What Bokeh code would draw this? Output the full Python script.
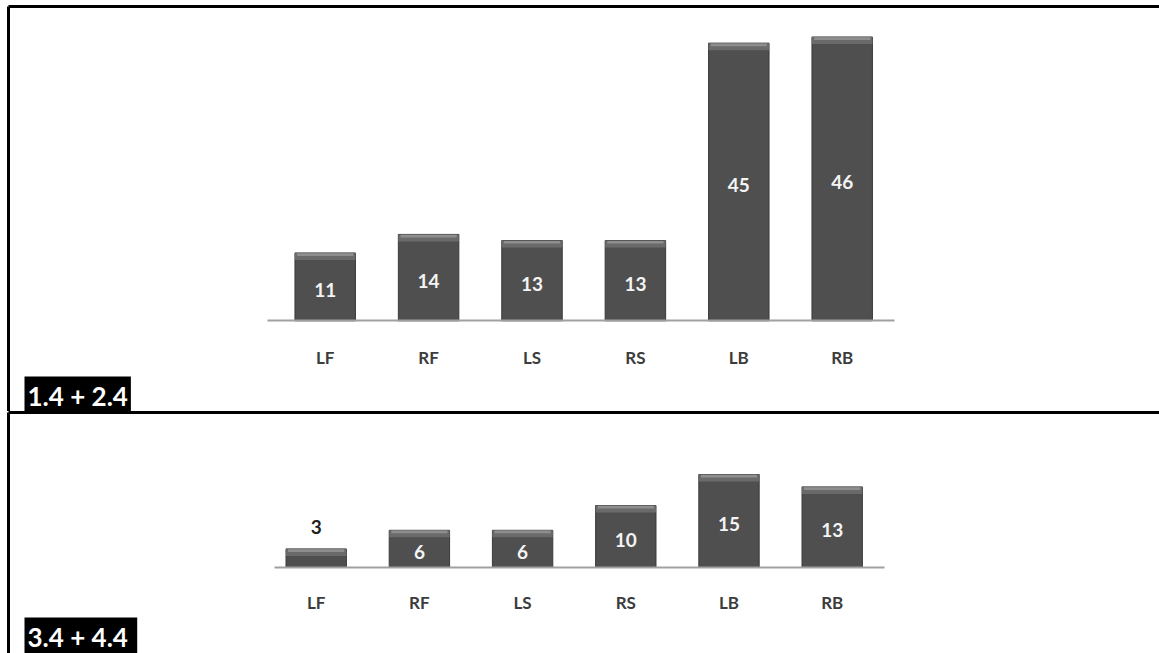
import numpy as np
from bokeh.plotting import figure
from bokeh.models import LinearAxis, FixedTicker, Range1d, Label, ColumnDataSource
from bokeh.layouts import column
from bokeh.embed import file_html
from bokeh.resources import INLINE
from bokeh.core.properties import value

# ---------------- data ----------------
categories = ["LF", "RF", "LS", "RS", "LB", "RB"]
values_top = [11, 14, 13, 13, 45, 46]
values_bottom = [3, 6, 6, 10, 15, 13]
title_top = "1.4 + 2.4"
title_bottom = "3.4 +  4.4"

# ---------------- layout constants (page pixels) ----------------
W = 1159
H_TOP = 411
H_BOT = 242
FONT = "Lato"
BAR_COLOR = "#4f4f4f"
BAR_EDGE = "#3a3a3a"
MBL = 8


def make_panel(vals, label_text, fig_top, height, mbt, first_cx, pitch, base_y, ppu,
               axis_l, axis_r, label_x, label_top, standoff, min_inside_px=30):
    frame_left = MBL
    frame_right = W
    frame_top = fig_top + mbt
    frame_bottom = fig_top + height
    x0 = -(first_cx - frame_left) / pitch
    x1 = x0 + (frame_right - frame_left) / pitch
    y1 = (base_y - frame_top) / ppu
    y0 = -(frame_bottom - base_y) / ppu

    p = figure(width=W, height=height, output_backend="svg", toolbar_location=None,
               tools="", x_range=Range1d(x0, x1), y_range=Range1d(y0, y1),
               x_axis_location=None, y_axis_location=None,
               min_border_left=MBL, min_border_right=0, min_border_top=mbt,
               min_border_bottom=0)
    p.outline_line_color = None
    p.background_fill_color = "white"
    p.border_fill_color = "white"
    for g in p.grid:
        g.visible = False

    def border_axis():
        return LinearAxis(ticker=FixedTicker(ticks=[]), axis_line_width=3,
                          axis_line_color="black", major_tick_in=0, major_tick_out=0,
                          minor_tick_in=0, minor_tick_out=0, major_label_standoff=0,
                          major_label_text_font_size="0px")

    p.add_layout(border_axis(), "left")
    p.add_layout(border_axis(), "above")

    idx = list(range(len(categories)))
    xaxis = LinearAxis(fixed_location=0, ticker=FixedTicker(ticks=idx),
                       major_label_overrides={i: c for i, c in enumerate(categories)},
                       bounds=((axis_l - first_cx) / pitch, (axis_r - first_cx) / pitch),
                       axis_line_color="#a0a0a0", axis_line_width=2,
                       major_tick_line_color=None, minor_tick_line_color=None,
                       major_label_standoff=standoff,
                       major_label_text_font=FONT, major_label_text_font_style="bold",
                       major_label_text_font_size="17px",
                       major_label_text_color="#3c3c3c")
    p.add_layout(xaxis, "below")

    v = np.array(vals, dtype=float)
    bw = 0.585
    p.vbar(x=idx, top=v, bottom=0, width=bw, fill_color=BAR_COLOR,
           line_color=BAR_EDGE, line_width=1)
    # bevel on top of each bar
    p.vbar(x=idx, top=v, bottom=v - 7 / ppu, width=bw, fill_color="#6a6a6a",
           line_color=None)
    p.vbar(x=idx, top=v - 0.3 / ppu, bottom=v - 3 / ppu, width=bw * 0.93,
           fill_color="#8e8e8e", line_color=None)

    inside = [i for i in idx if v[i] * ppu >= min_inside_px]
    outside = [i for i in idx if v[i] * ppu < min_inside_px]
    src_in = ColumnDataSource(dict(x=inside, y=[v[i] / 2 for i in inside],
                                   t=[str(vals[i]) for i in inside]))
    src_out = ColumnDataSource(dict(x=outside, y=[v[i] for i in outside],
                                    t=[str(vals[i]) for i in outside]))
    p.text(x="x", y="y", text="t", source=src_in, text_align="center",
           text_baseline="middle", y_offset=3, text_color="#f4f4f4",
           text_font=value(FONT), text_font_style="bold", text_font_size="19px")
    p.text(x="x", y="y", text="t", source=src_out, text_align="center",
           text_baseline="alphabetic", y_offset=-22, text_color="#1e1e1e",
           text_font=value(FONT), text_font_style="bold", text_font_size="19px")

    lab = Label(x=x0 + (label_x - frame_left) / pitch, y=(base_y - label_top) / ppu,
                text=label_text, text_color="white", text_font=FONT,
                text_font_style="bold", text_font_size="26px",
                text_baseline="top", text_align="left",
                background_fill_color="black", padding=3)
    p.add_layout(lab)
    return p


p_top = make_panel(values_top, title_top, fig_top=0, height=H_TOP, mbt=6,
                   first_cx=324.7, pitch=103.4, base_y=320.3, ppu=6.17,
                   axis_l=267, axis_r=894, label_x=24, label_top=376, standoff=20)
p_bot = make_panel(values_bottom, title_bottom, fig_top=H_TOP, height=H_BOT,
                   mbt=1, first_cx=315.7, pitch=103.2, base_y=567, ppu=6.2,
                   axis_l=274, axis_r=884, label_x=24, label_top=617, standoff=18)

layout = column(p_top, p_bot, spacing=0)

with open("out.html", "w") as f:
    f.write(file_html(layout, INLINE))
